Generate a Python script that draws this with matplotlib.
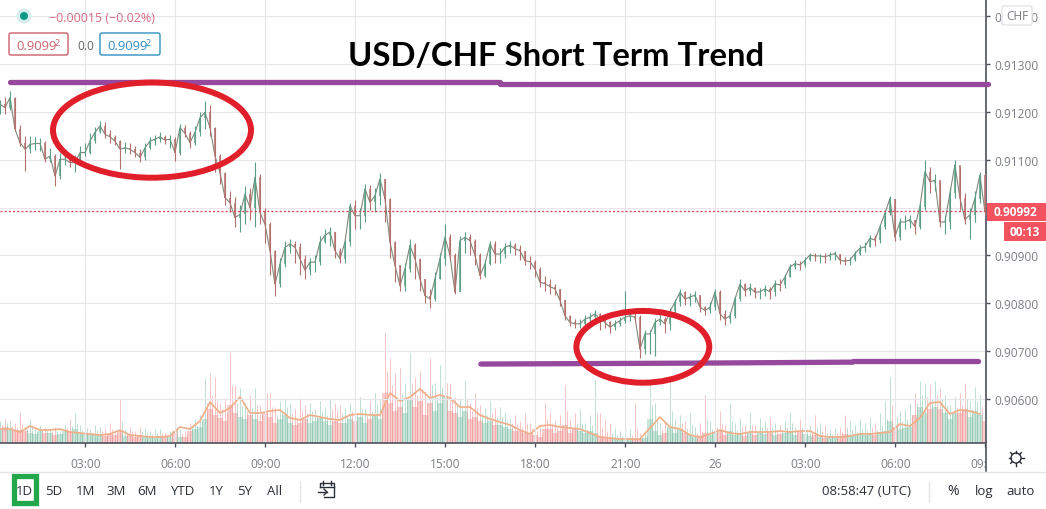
import matplotlib
matplotlib.use("Agg")
import matplotlib.pyplot as plt
from matplotlib.patches import Ellipse, Rectangle, FancyBboxPatch, Circle
import numpy as np

plt.rcParams['font.family'] = ['Open Sans', 'DejaVu Sans']

# 10 minute bars, hours since 00:00 on the 25th
start_hour = 0.15
bar_hours = 1 / 6

closes = [
    .91216, .91209, .91230, .91164, .91136, .91122, .91132, .91134, .91134, .91101,
    .91108, .91066, .91101, .91101, .91094, .91094, .91115, .91115, .91139, .91157,
    .91171, .91153, .91148, .91139, .91122, .91125, .91122, .91115, .91105, .91125,
    .91139, .91143, .91148, .91141, .91143, .91115, .91167, .91155, .91136, .91157,
    .91188, .91199, .91167, .91108, .91073, .91021, .91010, .90979, .90986, .91028,
    .91000, .91063, .90990, .90965, .90910, .90840, .90882, .90917, .90924, .90917,
    .90893, .90869, .90886, .90886, .90928, .90942, .90949, .90910, .90893, .90928,
    .91004, .90983, .90983, .91039, .91011, .91025, .91060, .91018, .90928, .90879,
    .90837, .90872, .90921, .90893, .90851, .90816, .90809, .90851, .90893, .90938,
    .90900, .90823, .90931, .90938, .90931, .90900, .90858, .90882, .90924, .90903,
    .90903, .90917, .90921, .90914, .90910, .90889, .90887, .90872, .90844, .90841,
    .90835, .90830, .90806, .90774, .90760, .90757, .90757, .90767, .90771, .90778,
    .90767, .90760, .90750, .90757, .90764, .90771, .90774, .90771, .90704, .90736,
    .90736, .90760, .90767, .90757, .90783, .90802, .90823, .90809, .90813, .90817,
    .90792, .90785, .90792, .90823, .90778, .90767, .90774, .90809, .90840, .90826,
    .90833, .90823, .90824, .90830, .90824, .90841, .90838, .90855, .90876, .90883,
    .90880, .90890, .90901, .90899, .90899, .90897, .90901, .90904, .90890, .90888,
    .90890, .90904, .90915, .90918, .90936, .90932, .90960, .90988, .91019, .90939,
    .90970, .90970, .90975, .90960, .91002, .91075, .91054, .91057, .90970, .90970,
    .91030, .91089, .91020, .90975, .90985, .91019, .91068, .90992,
]
highs = [
    .91225, .91232, .91243, .91232, .91172, .91150, .91150, .91148, .91145, .91140,
    .91125, .91112, .91115, .91115, .91112, .91110, .91128, .91135, .91155, .91168,
    .91182, .91178, .91162, .91152, .91142, .91138, .91135, .91128, .91122, .91135,
    .91148, .91152, .91158, .91152, .91152, .91148, .91175, .91172, .91160, .91170,
    .91200, .91222, .91215, .91168, .91112, .91075, .91035, .91022, .91005, .91045,
    .91040, .91095, .91070, .91000, .90970, .90912, .90895, .90930, .90935, .90930,
    .90925, .90900, .90895, .90900, .90940, .90955, .90960, .90950, .90915, .90935,
    .91010, .91015, .91000, .91050, .91048, .91040, .91072, .91060, .91020, .90930,
    .90880, .90885, .90935, .90925, .90895, .90850, .90830, .90865, .90905, .90965,
    .90945, .90905, .90940, .90950, .90945, .90935, .90905, .90890, .90930, .90930,
    .90915, .90925, .90930, .90925, .90922, .90910, .90898, .90890, .90875, .90858,
    .90850, .90840, .90830, .90806, .90775, .90768, .90768, .90775, .90780, .90786,
    .90780, .90772, .90762, .90765, .90772, .90826, .90785, .90780, .90775, .90745,
    .90745, .90770, .90778, .90772, .90790, .90810, .90830, .90825, .90822, .90825,
    .90815, .90795, .90802, .90830, .90828, .90785, .90782, .90815, .90850, .90842,
    .90842, .90835, .90832, .90838, .90835, .90848, .90850, .90862, .90882, .90890,
    .90888, .90896, .90906, .90905, .90904, .90905, .90908, .90910, .90904, .90896,
    .90897, .90910, .90922, .90928, .90942, .90942, .90966, .90995, .91025, .91018,
    .90978, .90985, .90985, .90975, .91010, .91100, .91085, .91070, .91055, .90985,
    .91040, .91100, .91085, .91030, .91000, .91035, .91075, .91068,
]
lows = [
    .91195, .91195, .91205, .91160, .91128, .91076, .91115, .91120, .91118, .91095,
    .91095, .91045, .91060, .91090, .91085, .91075, .91092, .91108, .91112, .91135,
    .91155, .91145, .91135, .91130, .91080, .91115, .91112, .91105, .91095, .91100,
    .91122, .91130, .91138, .91132, .91125, .91098, .91110, .91148, .91125, .91130,
    .91150, .91165, .91150, .91075, .91050, .91005, .90990, .90960, .90950, .90965,
    .90975, .90960, .90965, .90925, .90860, .90815, .90835, .90875, .90905, .90885,
    .90860, .90850, .90860, .90865, .90880, .90925, .90920, .90895, .90885, .90885,
    .90920, .90955, .90955, .90970, .90995, .90990, .91005, .90970, .90895, .90845,
    .90825, .90825, .90865, .90850, .90825, .90800, .90790, .90805, .90850, .90880,
    .90890, .90820, .90825, .90905, .90900, .90880, .90850, .90855, .90880, .90885,
    .90885, .90895, .90905, .90900, .90890, .90880, .90872, .90855, .90835, .90825,
    .90820, .90818, .90795, .90765, .90752, .90748, .90748, .90755, .90760, .90768,
    .90745, .90748, .90738, .90745, .90752, .90758, .90762, .90760, .90685, .90695,
    .90695, .90690, .90755, .90738, .90745, .90780, .90795, .90796, .90795, .90803,
    .90782, .90775, .90780, .90785, .90765, .90755, .90758, .90770, .90805, .90816,
    .90818, .90812, .90810, .90815, .90810, .90815, .90825, .90832, .90855, .90872,
    .90870, .90875, .90888, .90888, .90885, .90885, .90890, .90890, .90882, .90880,
    .90880, .90888, .90900, .90908, .90918, .90920, .90925, .90955, .90985, .90930,
    .90932, .90955, .90958, .90945, .90955, .90995, .91030, .91035, .90960, .90945,
    .90955, .91020, .90995, .90965, .90935, .90970, .91010, .90985,
]

# volume, arbitrary units. body = the solid mass, peak = the thin spikes on top,
# mid = the bars that fall between two peaks
vol_body = [
    14, 16, 15, 12, 13, 12, 10, 9, 12, 10,
    10, 8, 9, 12, 11, 14, 9, 10, 9, 8,
    8, 7, 9, 8, 12, 7, 8, 6, 8, 7,
    6, 6, 7, 6, 6, 12, 6, 6, 12, 14,
    16, 24, 34, 28, 25, 22, 38, 30, 26, 24,
    28, 24, 22, 30, 26, 20, 24, 28, 20, 18,
    20, 24, 20, 22, 25, 22, 18, 22, 20, 20,
    24, 22, 26, 20, 24, 28, 24, 50, 40, 32,
    36, 30, 44, 36, 42, 28, 40, 32, 40, 46,
    32, 30, 26, 32, 24, 26, 22, 20, 22, 18,
    18, 16, 14, 12, 12, 10, 10, 8, 6, 14,
    14, 10, 12, 18, 10, 14, 12, 10, 12, 10,
    6, 5, 4, 4, 4, 4, 5, 4, 4, 5,
    24, 12, 8, 10, 16, 10, 14, 10, 8, 6,
    6, 10, 8, 10, 12, 8, 12, 8, 9, 7,
    10, 8, 10, 9, 10, 8, 9, 10, 12, 8,
    11, 9, 7, 8, 6, 5, 6, 6, 7, 9,
    8, 8, 9, 8, 10, 8, 11, 12, 22, 16,
    14, 15, 16, 28, 36, 30, 34, 36, 34, 30,
    24, 30, 30, 34, 26, 32, 28, 22,
]
vol_peak = [
    22, 24, 22, 20, 31, 16, 24, 14, 18, 16,
    14, 16, 12, 18, 24, 30, 18, 22, 14, 18,
    16, 14, 20, 12, 44, 14, 16, 12, 16, 15,
    12, 14, 14, 10, 12, 28, 14, 12, 20, 24,
    28, 65, 70, 66, 40, 45, 90, 58, 55, 40,
    48, 55, 38, 83, 50, 36, 42, 45, 40, 34,
    45, 38, 40, 34, 42, 36, 44, 40, 38, 36,
    40, 38, 46, 34, 42, 50, 44, 111, 85, 70,
    75, 60, 90, 66, 72, 52, 85, 60, 78, 85,
    60, 46, 45, 62, 40, 50, 38, 35, 42, 35,
    36, 30, 25, 28, 22, 30, 20, 18, 16, 40,
    30, 22, 28, 58, 24, 30, 34, 20, 28, 64,
    30, 24, 20, 15, 12, 10, 14, 40, 10, 12,
    60, 40, 20, 22, 62, 24, 28, 22, 30, 16,
    20, 48, 22, 24, 32, 18, 40, 20, 25, 18,
    30, 18, 25, 22, 26, 20, 18, 22, 30, 16,
    24, 22, 18, 28, 20, 18, 14, 15, 16, 28,
    22, 18, 24, 20, 26, 20, 30, 42, 66, 40,
    32, 34, 40, 50, 62, 60, 58, 62, 55, 48,
    38, 46, 50, 60, 42, 56, 48, 36,
]
vol_mid = [
    18, 20, 17, 15, 20, 14, 16, 11, 14, 13,
    12, 12, 10, 15, 17, 20, 13, 15, 11, 13,
    12, 10, 14, 10, 22, 10, 12, 9, 12, 11,
    9, 10, 10, 8, 9, 16, 10, 9, 16, 18,
    22, 40, 48, 42, 34, 30, 58, 40, 38, 32,
    36, 38, 30, 50, 36, 28, 32, 36, 30, 26,
    32, 30, 32, 28, 32, 28, 34, 32, 30, 28,
    32, 30, 34, 28, 32, 38, 34, 72, 58, 46,
    50, 44, 60, 48, 54, 40, 58, 46, 56, 60,
    44, 38, 36, 44, 32, 36, 30, 28, 30, 26,
    26, 22, 20, 20, 16, 20, 15, 12, 10, 24,
    20, 16, 18, 32, 16, 20, 20, 14, 18, 30,
    16, 12, 10, 8, 7, 6, 8, 14, 6, 8,
    38, 22, 14, 16, 32, 16, 20, 15, 18, 10,
    12, 24, 14, 16, 20, 12, 22, 13, 16, 12,
    18, 12, 16, 15, 16, 13, 13, 15, 20, 12,
    16, 14, 12, 16, 12, 10, 9, 10, 11, 16,
    14, 12, 15, 13, 16, 13, 18, 24, 38, 26,
    22, 24, 28, 40, 48, 46, 44, 48, 44, 38,
    30, 36, 38, 44, 34, 42, 36, 28,
]
# volume moving average, one reading every 20 minutes
vol_ma = [
    14, 14, 11, 17, 13, 13, 14, 11, 10, 9,
    8, 9, 13, 8, 7, 6, 6, 7, 16, 14,
    22, 41, 30, 35, 46, 30, 30, 32, 33, 25,
    23, 28, 26, 24, 23, 28, 29, 28, 28, 50,
    42, 46, 54, 45, 48, 45, 36, 36, 28, 24,
    21, 18, 13, 9, 17, 18, 16, 15, 14, 10,
    6, 5, 4, 4, 4, 15, 26, 16, 14, 8,
    6, 9, 13, 10, 9, 11, 11, 11, 12, 11,
    12, 12, 7, 6, 6, 7, 9, 9, 10, 11,
    19, 17, 25, 40, 41, 29, 33, 32, 29,
]

tick_hours = [3, 6, 9, 12, 15, 18, 21, 24, 27, 30, 33]
tick_labels = ['03:00', '06:00', '09:00', '12:00', '15:00', '18:00', '21:00', '26', '03:00', '06:00', '09:00']
price_ticks = [.906, .907, .908, .909, .910, .911, .912, .913, .914]
last_price = .90992
resistance_x = [[0.48, 16.82], [16.82, 33.08]]
resistance_y = [[.91262, .91262], [.91258, .91258]]
support_x = [[16.18, 23.48], [23.48, 28.58], [28.58, 32.75]]
support_y = [[.90673, .90675], [.90675, .90677], [.90679, .90679]]

UP = '#5a9f86'
DOWN = '#b4706c'
GRID = '#e6e6ea'
AXIS = '#50535e'
LABEL = '#7b7e88'
W, H = 1046, 510

hours = start_hour + bar_hours * np.arange(len(closes))
closes = np.array(closes)
opens = np.r_[closes[0], closes[:-1]]
colors = [UP if c >= o else DOWN for o, c in zip(opens, closes)]

fig = plt.figure(figsize=(W / 100, H / 100), dpi=100, facecolor='white')
ax = fig.add_axes([0, 66 / H, 986 / W, 444 / H])
ax_vol = ax.twinx()
ax.set_zorder(ax_vol.get_zorder() + 1)
ax.patch.set_visible(False)
ax_vol.patch.set_visible(True)
ax_vol.patch.set_facecolor('white')

# volume under the price
vol_colors = ['#7fc0a6' if c == UP else '#ee8c8c' for c in colors]
ax_vol.bar(hours, vol_body, width=bar_hours * 1.05, color=vol_colors, alpha=0.42, linewidth=0)
ax_vol.vlines(hours, 0, vol_peak, colors=vol_colors, linewidth=0.6, alpha=0.6)
ax_vol.vlines(hours + bar_hours / 2, 0, vol_mid, colors=vol_colors[1:] + vol_colors[-1:], linewidth=0.6, alpha=0.6)
ax_vol.plot(start_hour + 2 * bar_hours * np.arange(len(vol_ma)), vol_ma, color='#f2ae86', linewidth=1.2)
ax_vol.set_ylim(0, 444)
ax_vol.yaxis.set_visible(False)
for s in ax_vol.spines.values():
    s.set_visible(False)

# price bars
ax.grid(True, color=GRID, linewidth=0.8)
ax.set_axisbelow(True)
ax.plot(hours, closes, color='#7f8a7c', linewidth=0.8, zorder=3)
ax.vlines(hours, lows, highs, colors=colors, linewidth=0.8, zorder=3)
ax.vlines(hours, opens, closes, colors=colors, linewidth=1.1, zorder=3)
ax.axhline(last_price, color='#d0505a', linewidth=1, linestyle=(0, (1.5, 1.5)), zorder=3)

ax.set_xlim(0.15, 33.02)
ax.set_ylim(.90508, .91436)
ax.set_xticks(tick_hours)
ax.set_xticklabels(tick_labels)
ax.set_yticks(price_ticks)
# the 0.91000 label sits behind the last price tag in the original
ax.set_yticklabels(['' if p == .910 else '%.5f' % p for p in price_ticks])
ax.yaxis.tick_right()
ax.tick_params(axis='both', colors=AXIS, labelcolor=LABEL, labelsize=8.6, length=3, width=1)
ax.tick_params(axis='x', pad=7)
ax.tick_params(axis='y', pad=3)
for name, s in ax.spines.items():
    s.set_visible(name in ('bottom', 'right'))
    s.set_color(AXIS)
    s.set_linewidth(1.2)

# hand drawn marks on top of the chart
for xs, ys in list(zip(resistance_x, resistance_y)) + list(zip(support_x, support_y)):
    ax.plot(xs, ys, color='#96489c', linewidth=3.8, solid_capstyle='round', clip_on=False, zorder=5)
ax.add_patch(Ellipse((5.217, .91162), 6.6, .00199, fill=False, edgecolor='#e01f2a', linewidth=4.3, zorder=6))
ax.add_patch(Ellipse((21.58, .90709), 4.43, .00150, fill=False, edgecolor='#e01f2a', linewidth=4.3, zorder=6))

# corner under the price scale, cuts off the last time label
corner = fig.add_axes([986 / W, 38 / H, 60 / W, 28 / H], zorder=5)
corner.set_xticks([])
corner.set_yticks([])
for name, s in corner.spines.items():
    s.set_visible(name == 'left')
    s.set_color(AXIS)
    s.set_linewidth(1.2)

# everything else sits in pixel coordinates
ui = fig.add_axes([0, 0, 1, 1], zorder=10)
ui.set_xlim(0, W)
ui.set_ylim(H, 0)
ui.axis('off')

ui.text(556.5, 57, 'USD/CHF Short Term Trend', fontsize=23.7, fontweight='bold', color='black',
        ha='center', va='center', family=['Lato', 'DejaVu Sans'])

ui.add_patch(Circle((24, 17), 7.5, color='#d5efec', linewidth=0))
ui.add_patch(Circle((24, 17), 4, color='#0e9a8a', linewidth=0))
ui.text(49, 18, '\u22120.00015 (\u22120.02%)', fontsize=9, color='#d56d80', va='center')


def value_box(x0, x1, color):
    ui.add_patch(FancyBboxPatch((x0 + 2, 36), x1 - x0 - 4, 18, boxstyle='round,pad=2', fill=True,
                                facecolor='white', edgecolor=color, linewidth=1))
    ui.text(x0 + 7, 46, '0.9099', fontsize=9.4, color=color, va='center')
    ui.text(x0 + 45.5, 43, '2', fontsize=6.5, color=color, va='center')


value_box(9, 68, '#c9616b')
value_box(100, 160, '#2f8fc4')
ui.text(77, 46, '0.0', fontsize=8.6, color='#60636e', va='center')

ui.add_patch(FancyBboxPatch((1004, 9), 26, 15, boxstyle='round,pad=2', facecolor='white',
                            edgecolor='#e4e4e8', linewidth=1))
ui.text(1017, 17, 'CHF', fontsize=8.6, color=LABEL, ha='center', va='center')

ui.add_patch(Rectangle((987, 203.5), 59, 18.5, color='#f4525f', linewidth=0))
ui.add_patch(Rectangle((1004, 223), 42, 18.5, color='#f4525f', linewidth=0))
ui.text(1016, 212.5, '0.90992', fontsize=8.6, fontweight='bold', color='white', ha='center', va='center')
ui.text(1025, 232.5, '00:13', fontsize=8.6, fontweight='bold', color='white', ha='center', va='center')

# bottom toolbar
ui.plot([0, W], [472.5, 472.5], color='#e4e4e8', linewidth=1)
ui.add_patch(Rectangle((13.5, 476.5), 22, 27, fill=False, edgecolor='#22a84b', linewidth=3.8))
for x, label in zip([24, 54, 85, 116, 147, 182, 216, 245, 275],
                    ['1D', '5D', '1M', '3M', '6M', 'YTD', '1Y', '5Y', 'All']):
    ui.text(x, 492, label, fontsize=9.5, color='#2a2e39', ha='center', va='center')
ui.plot([300, 300], [483, 503], color='#e4e4e8', linewidth=1)
ui.plot([929, 929], [483, 503], color='#e4e4e8', linewidth=1)
ui.text(866, 492, '08:58:47 (UTC)', fontsize=9.5, color='#2a2e39', ha='center', va='center')
ui.text(953, 492, '%', fontsize=10, color='#2a2e39', ha='center', va='center')
ui.text(984, 492, 'log', fontsize=9.5, color='#2a2e39', ha='center', va='center')
ui.text(1021, 492, 'auto', fontsize=9.5, color='#2a2e39', ha='center', va='center')

# calendar icon
ui.plot([320, 320, 334, 334, 324], [488, 484, 484, 498, 498], color='#2a2e39', linewidth=1)
ui.plot([320, 334], [488, 488], color='#2a2e39', linewidth=1)
ui.plot([323, 323], [482, 486], color='#2a2e39', linewidth=1)
ui.plot([331, 331], [482, 486], color='#2a2e39', linewidth=1)
ui.plot([318, 327], [493, 493], color='#2a2e39', linewidth=1)
ui.plot([324, 327, 324], [490, 493, 496], color='#2a2e39', linewidth=1)

# settings icon
ui.add_patch(Circle((1016, 459), 5, fill=False, edgecolor='#2a2e39', linewidth=1))
for a in np.arange(0, 360, 45):
    dx, dy = np.cos(np.radians(a)), np.sin(np.radians(a))
    ui.plot([1016 + 5 * dx, 1016 + 7.5 * dx], [459 + 5 * dy, 459 + 7.5 * dy], color='#2a2e39', linewidth=1)

fig.savefig('out.png', dpi=100)
